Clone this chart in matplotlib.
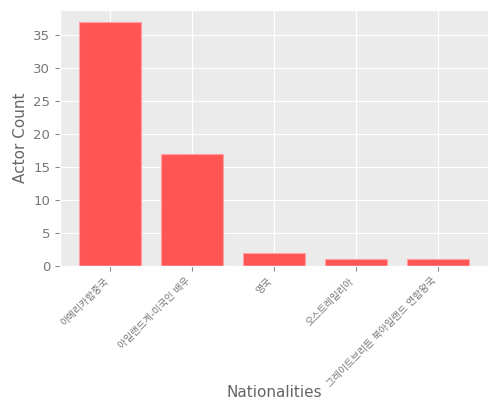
import matplotlib
matplotlib.use("Agg")
import matplotlib.pyplot as plt

nationalities = [
    "아메리카합중국",
    "아일랜드계-미국인 배우",
    "영국",
    "오스트레일리아",
    "그레이트브리튼 북아일랜드 연합왕국",
]
actor_counts = [37, 17, 2, 1, 1]

plt.style.use("ggplot")
plt.rcParams["font.family"] = ["DejaVu Sans", "Noto Sans CJK KR"]

fig, ax = plt.subplots(figsize=(5, 4), dpi=100)
fig.subplots_adjust(left=0.12, right=0.976, top=0.975, bottom=0.335)
ax.set_facecolor("#EBEBEB")
ax.bar(nationalities, actor_counts, width=0.75, color="#FF5555",
       edgecolor="#FF9F9F", linewidth=0.8)
ax.set_xlabel("Nationalities", color="#666666", fontsize=11)
ax.xaxis.set_label_coords(0.5, -0.465)
ax.set_ylabel("Actor Count", color="#666666", fontsize=11)
ax.tick_params(colors="#888888", labelcolor="#777777", labelsize=9.5)
ax.tick_params(axis="x", labelsize=7)
plt.setp(ax.get_xticklabels(), rotation=45, ha="right")
fig.savefig("out.png")
